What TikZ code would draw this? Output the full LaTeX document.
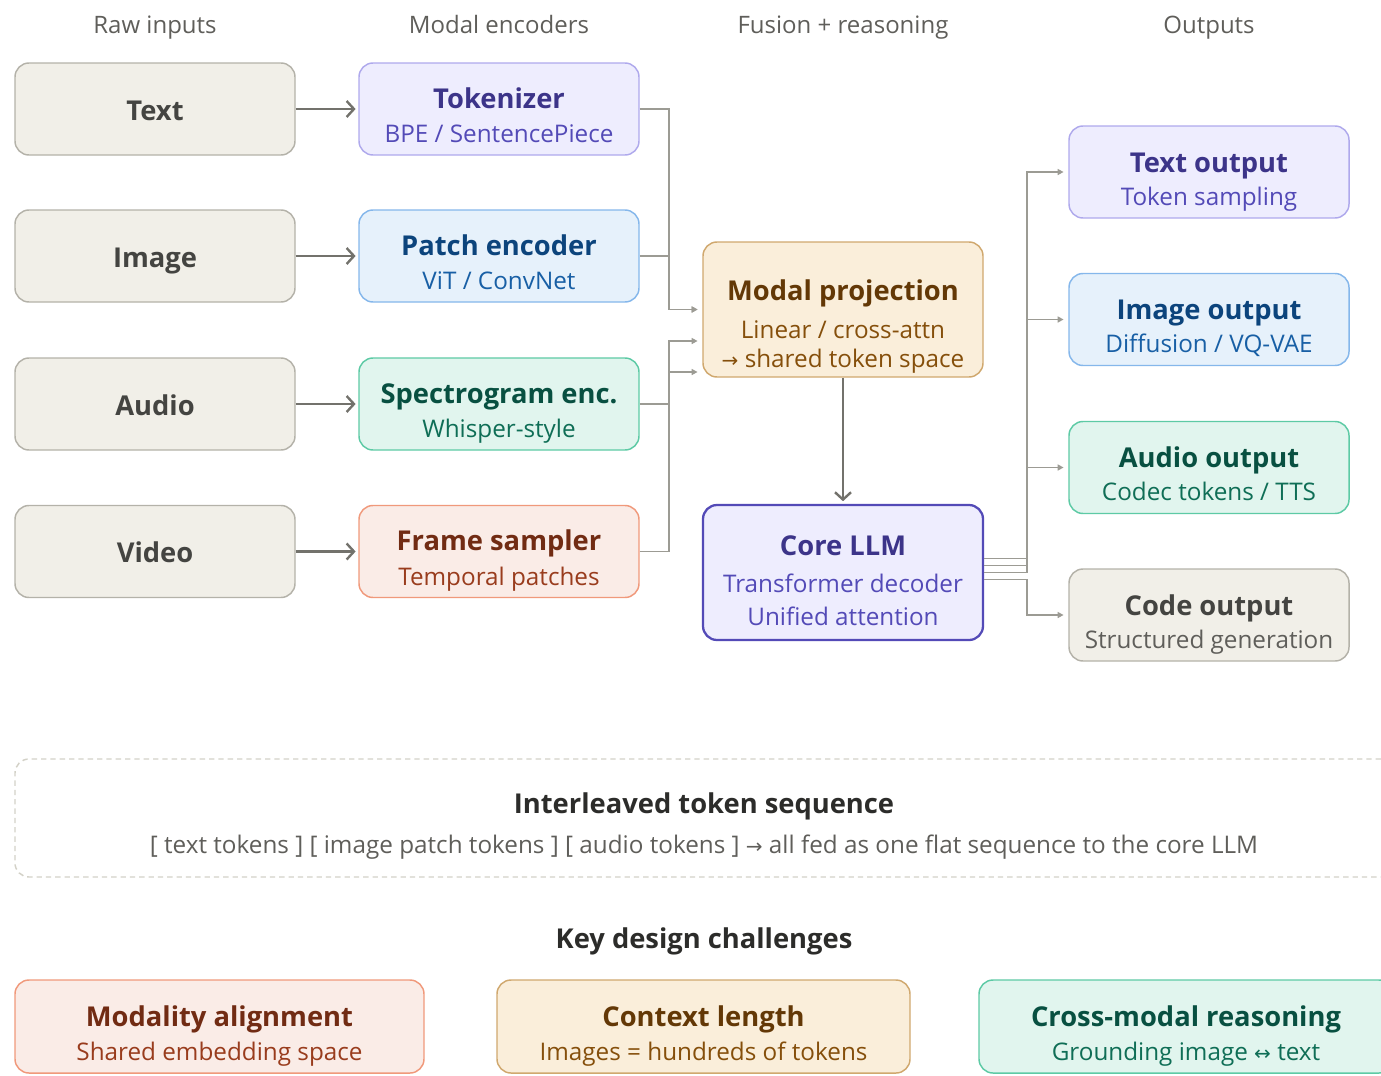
\documentclass[tikz,border=0pt]{standalone}
\usepackage{fontspec}
\setmainfont{Open Sans}
\newfontfamily\symf{DejaVu Sans}
\usetikzlibrary{arrows.meta,calc}

% palette
\definecolor{inF}{HTML}{F1EFE8}\definecolor{inD}{HTML}{B4B2A9}\definecolor{inT}{HTML}{444441}\definecolor{inS}{HTML}{5F5E5A}
\definecolor{purF}{HTML}{EEEDFE}\definecolor{purD}{HTML}{AFA9EC}\definecolor{purT}{HTML}{3C3489}\definecolor{purS}{HTML}{534AB7}
\definecolor{bluF}{HTML}{E6F1FB}\definecolor{bluD}{HTML}{85B7EB}\definecolor{bluT}{HTML}{0C447C}\definecolor{bluS}{HTML}{185FA5}
\definecolor{grnF}{HTML}{E1F5EE}\definecolor{grnD}{HTML}{5DCAA5}\definecolor{grnT}{HTML}{085041}\definecolor{grnS}{HTML}{0F6E56}
\definecolor{corF}{HTML}{FAECE7}\definecolor{corD}{HTML}{F0997B}\definecolor{corT}{HTML}{712B13}\definecolor{corS}{HTML}{993C1D}
\definecolor{ambF}{HTML}{FAEEDA}\definecolor{ambD}{HTML}{D0A86E}\definecolor{ambT}{HTML}{633806}\definecolor{ambS}{HTML}{854F0B}
\definecolor{hdrC}{HTML}{5F5E5A}\definecolor{darkT}{HTML}{2C2C2A}
\definecolor{flowC}{HTML}{73726C}\definecolor{feedC}{HTML}{9C9B94}\definecolor{dashC}{HTML}{D3D1C7}

\begin{document}
\begin{tikzpicture}[x=0.75pt,y=-0.75pt,
  box/.style={draw, rounded corners=10.5pt, line width=1.1pt, inner sep=0pt,
              minimum width=210pt, minimum height=69pt},
  ingray/.style={fill=inF, draw=inD},
  purple/.style={fill=purF, draw=purD},
  blue/.style={fill=bluF, draw=bluD},
  green/.style={fill=grnF, draw=grnD},
  coral/.style={fill=corF, draw=corD},
  amber/.style={fill=ambF, draw=ambD},
  ttl/.style={anchor=base, inner sep=0pt, font=\fontsize{20.5}{24}\selectfont\bfseries},
  subtxt/.style={anchor=base, inner sep=0pt, font=\fontsize{18.2}{22}\selectfont},
  hdr/.style={anchor=base, inner sep=0pt, font=\fontsize{18}{22}\selectfont, text=hdrC},
  flow/.style={draw=flowC, line width=1.8pt, shorten >=2pt,
               -{Straight Barb[length=5.5pt,width=12pt]}},
  feed/.style={draw=feedC, line width=1.25pt, shorten >=3.5pt,
               -{Triangle[length=4.5pt,width=4.5pt]}}
]
\useasboundingbox (0,0) rectangle (1381,1075);
\clip (0,0) rectangle (1381,1075);

% column headers
\node[hdr] (h1) at (155,33) {Raw inputs};
\node[hdr] (h2) at (499,33) {Modal encoders};
\node[hdr] (h3) at (843,33) {Fusion + reasoning};
\node[hdr] (h4) at (1209,33) {Outputs};

% raw inputs
\node[box, ingray] (txt) at (155,109) {};
\node[ttl, text=inT] (txtL) at (155,120) {Text};
\node[box, ingray] (img) at (155,256) {};
\node[ttl, text=inT] (imgL) at (155,267) {Image};
\node[box, ingray] (aud) at (155,404) {};
\node[ttl, text=inT] (audL) at (155,415) {Audio};
\node[box, ingray] (vid) at (155,551.5) {};
\node[ttl, text=inT] (vidL) at (155,562.5) {Video};

% modal encoders
\node[box, purple] (tok) at (499,109) {};
\node[ttl, text=purT] (tokT) at (499,108) {Tokenizer};
\node[subtxt, text=purS] (tokS) at (499,142.5) {BPE / SentencePiece};
\node[box, blue] (pe) at (499,256) {};
\node[ttl, text=bluT] (peT) at (499,255) {Patch encoder};
\node[subtxt, text=bluS] (peS) at (499,289.5) {ViT / ConvNet};
\node[box, green] (sp) at (499,404) {};
\node[ttl, text=grnT] (spT) at (499,403) {Spectrogram enc.};
\node[subtxt, text=grnS] (spS) at (499,437.5) {Whisper-style};
\node[box, coral] (fs) at (499,551.5) {};
\node[ttl, text=corT] (fsT) at (499,550.5) {Frame sampler};
\node[subtxt, text=corS] (fsS) at (499,585) {Temporal patches};

% fusion + reasoning
\node[box, amber, minimum height=101.25pt] (mp) at (843,309.5) {};
\node[ttl, text=ambT] (mpT) at (843,300) {Modal projection};
\node[subtxt, text=ambS] (mpS1) at (843,338) {Linear / cross-attn};
\node[subtxt, text=ambS] (mpS2) at (843,367) {{\symf\fontsize{15}{18}\selectfont →} shared token space};
\node[box, fill=purF, draw=purS, line width=1.7pt, minimum height=101.25pt] (core) at (843,572.5) {};
\node[ttl, text=purT] (coreT) at (843,555) {Core LLM};
\node[subtxt, text=purS] (coreS1) at (843,592) {Transformer decoder};
\node[subtxt, text=purS] (coreS2) at (843,625) {Unified attention};

% outputs
\node[box, purple] (tout) at (1209,172) {};
\node[ttl, text=purT] (toutT) at (1209,172) {Text output};
\node[subtxt, text=purS] (toutS) at (1209,205) {Token sampling};
\node[box, blue] (iout) at (1209,319.5) {};
\node[ttl, text=bluT] (ioutT) at (1209,319.5) {Image output};
\node[subtxt, text=bluS] (ioutS) at (1209,352.5) {Diffusion / VQ-VAE};
\node[box, green] (aout) at (1209,467.5) {};
\node[ttl, text=grnT] (aoutT) at (1209,467.5) {Audio output};
\node[subtxt, text=grnS] (aoutS) at (1209,500.5) {Codec tokens / TTS};
\node[box, ingray] (cout) at (1209,615) {};
\node[ttl, text=inT] (coutT) at (1209,615) {Code output};
\node[subtxt, text=inS] (coutS) at (1209,648) {Structured generation};

% input -> encoder
\draw[flow] (txt) -- (tok);
\draw[flow] (img) -- (pe);
\draw[flow] (aud) -- (sp);
\draw[flow] (vid) -- (fs);

% encoders -> projection
\coordinate (jl) at (669,0);
\draw[feed] (tok.east) -- (tok.east -| jl) |- (mp.west);
\draw[feed] (pe.east) -- (pe.east -| jl) |- (mp.west);
\draw[feed] (sp.east) -- (sp.east -| jl) |- ($(mp.west)+(0,31.5)$);
\draw[feed] (fs.east) -- (fs.east -| jl) |- ($(mp.west)+(0,62.5)$);

% projection -> core
\draw[flow] (mp) -- (core);

% core -> outputs
\coordinate (jr) at (1027,0);
\coordinate (c1) at ($(core.east)+(0,-14)$);
\coordinate (c2) at ($(core.east)+(0,-7)$);
\coordinate (c3) at ($(core.east)+(0,0)$);
\coordinate (c4) at ($(core.east)+(0,7)$);
\draw[feed] (c1) -- (c1 -| jr) |- (tout.west);
\draw[feed] (c2) -- (c2 -| jr) |- (iout.west);
\draw[feed] (c3) -- (c3 -| jr) |- (aout.west);
\draw[feed] (c4) -- (c4 -| jr) |- (cout.west);

% interleaved sequence panel
\node[draw=dashC, line width=1.1pt, dash pattern=on 4pt off 3pt, rounded corners=10.5pt,
      minimum width=1035pt, minimum height=88.5pt, inner sep=0pt] (seq) at (705,818) {};
\node[ttl, text=darkT] (seqT) at (704,813) {Interleaved token sequence};
\node[subtxt, text=inS] (seqS) at (704,853.5) {[ text tokens ] [ image patch tokens ] [ audio tokens ] {\symf\fontsize{15}{18}\selectfont →} all fed as one flat sequence to the core LLM};

% design challenges
\node[ttl, text=darkT] (keyT) at (704,948) {Key design challenges};
\node[box, coral, minimum width=306.75pt, minimum height=69.75pt] (ch1) at (219.5,1026.5) {};
\node[ttl, text=corT] (ch1T) at (219.5,1026) {Modality alignment};
\node[subtxt, text=corS] (ch1S) at (219.5,1060.5) {Shared embedding space};
\node[box, amber, minimum width=309.75pt, minimum height=69.75pt] (ch2) at (703.5,1026.5) {};
\node[ttl, text=ambT] (ch2T) at (703.5,1026) {Context length};
\node[subtxt, text=ambS] (ch2S) at (703.5,1060.5) {Images = hundreds of tokens};
\node[box, green, minimum width=310.5pt, minimum height=69.75pt] (ch3) at (1186,1026.5) {};
\node[ttl, text=grnT] (ch3T) at (1186,1026) {Cross-modal reasoning};
\node[subtxt, text=grnS] (ch3S) at (1186,1060.5) {Grounding image {\symf\fontsize{15}{18}\selectfont ↔} text};
\end{tikzpicture}
\end{document}
